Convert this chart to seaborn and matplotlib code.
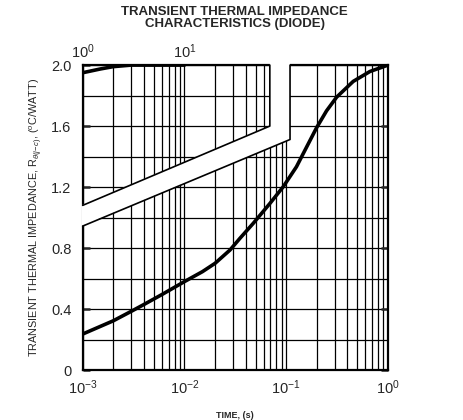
import numpy as np
import pandas as pd
import matplotlib
matplotlib.use("Agg")
import matplotlib.pyplot as plt
from matplotlib.patches import Polygon
import seaborn as sns

# main curve, time (s) on bottom axis
main_time = [0.001, 0.002, 0.003, 0.004, 0.006, 0.01, 0.015, 0.02,
             0.028, 0.0351, 0.0474, 0.0692, 0.0934, 0.126, 0.159, 0.199,
             0.249, 0.313, 0.455, 0.664, 1.0]
main_z = [0.236, 0.323, 0.385, 0.43, 0.495, 0.58, 0.645, 0.70,
          0.787, 0.864, 0.962, 1.093, 1.202, 1.333, 1.464, 1.59,
          1.70, 1.79, 1.893, 1.958, 2.0]

# inset curve, time (s) on top axis (1 .. 10 s)
inset_time = [1.0, 1.5, 2.0, 3.0, 5.0, 10.0]
inset_z = [1.95, 1.975, 1.99, 2.0, 2.0, 2.0]

y_ticks = [0, 0.4, 0.8, 1.2, 1.6, 2.0]
y_labels = ["0", "0.4", "0.8", "1.2", "1.6", "2.0"]
x_ticks = [1e-3, 1e-2, 1e-1, 1e0]
x_labels = ["$10^{-3}$", "$10^{-2}$", "$10^{-1}$", "$10^{0}$"]
top_ticks = [1, 10]
top_labels = ["$10^{0}$", "$10^{1}$"]

sns.set_style("white")
plt.rcParams["font.family"] = ["Liberation Sans", "DejaVu Sans"]
plt.rcParams["mathtext.fontset"] = "custom"
plt.rcParams["mathtext.rm"] = "Liberation Sans"
plt.rcParams["mathtext.it"] = "Liberation Sans:italic"

fig = plt.figure(figsize=(4.63, 4.20), dpi=100)
ax = fig.add_axes([0.1786, 0.119, 0.6594, 0.726])

main_df = pd.DataFrame({"t": main_time, "z": main_z})
inset_df = pd.DataFrame({"t": np.array(inset_time) / 1000.0, "z": inset_z})

ax.set_xscale("log")
ax.set_xlim(1e-3, 1.0)
ax.set_ylim(0, 2.0)

sns.lineplot(data=main_df, x="t", y="z", ax=ax, color="black", lw=2.6,
             zorder=3.5, solid_joinstyle="round", solid_capstyle="round")
sns.lineplot(data=inset_df, x="t", y="z", ax=ax, color="black", lw=2.6,
             zorder=3.5, solid_joinstyle="round")

# grid
ax.set_yticks(np.arange(0, 2.01, 0.2), minor=True)
ax.grid(True, which="both", color="black", lw=0.9)
ax.set_axisbelow(True)

ax.set_xticks(x_ticks)
ax.set_xticklabels(x_labels, fontsize=10.5)
ax.set_yticks(y_ticks)
ax.set_yticklabels(y_labels, fontsize=10.5)
ax.tick_params(axis="x", which="both", length=0, pad=6)
ax.tick_params(axis="y", which="major", direction="in", length=5, width=1.8,
               left=True, right=True, pad=8)
ax.tick_params(axis="y", which="minor", length=0)

for s in ax.spines.values():
    s.set_linewidth(1.6)
    s.set_color("black")

# top axis for inset
top = ax.secondary_xaxis("top", functions=(lambda x: x * 1000, lambda x: x / 1000))
top.set_xticks(top_ticks)
top.set_xticklabels(top_labels, fontsize=10.5)
top.tick_params(length=0, pad=3)
top.xaxis.set_minor_locator(matplotlib.ticker.NullLocator())
top.spines["top"].set_visible(False)

# break between inset and main plot
x_in, x_out, x_l = 0.069, 0.109, 1e-3
gap = Polygon([(x_l * 0.97, 1.08), (x_in, 1.6), (x_in, 2.03), (x_out, 2.03),
               (x_out, 1.512), (x_l * 0.97, 0.944)],
              closed=True, facecolor="white", edgecolor="none", zorder=4,
              clip_on=False)
ax.add_patch(gap)
ax.plot([x_l, x_in, x_in], [1.08, 1.6, 2.0], color="black", lw=1.2,
        zorder=5, clip_on=False)
ax.plot([x_out, x_out, x_l], [2.0, 1.512, 0.944], color="black", lw=1.2,
        zorder=5, clip_on=False)

ax.set_xlabel("TIME, (s)", fontsize=6.5, fontweight="bold", labelpad=10)
ax.set_ylabel(r"TRANSIENT THERMAL IMPEDANCE, R$_{\theta(j\!-\!c)}$, ($^o$C/WATT)",
              fontsize=7.8, labelpad=5)
fig.text(0.507, 0.985, "TRANSIENT THERMAL IMPEDANCE\nCHARACTERISTICS (DIODE)",
         ha="center", va="top", fontsize=9.5, fontweight="bold", linespacing=0.95)

fig.savefig("out.png", dpi=100)
